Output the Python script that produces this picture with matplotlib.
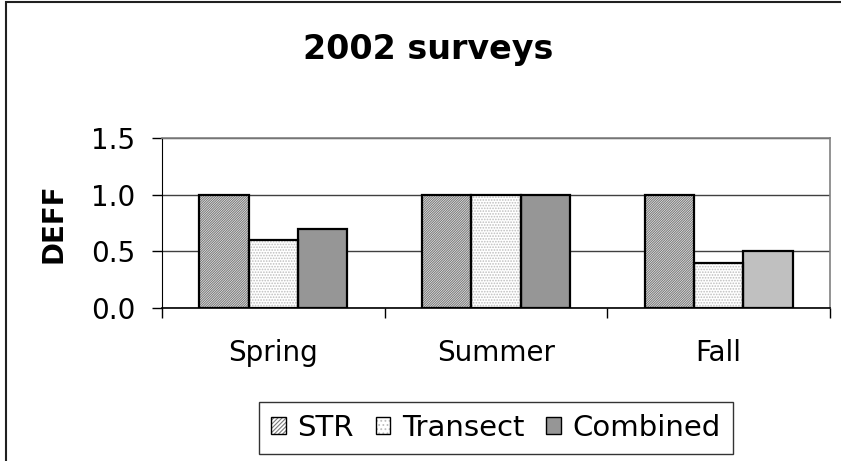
import numpy as np
import matplotlib
matplotlib.use('Agg')
from matplotlib import pyplot as plt
from matplotlib.patches import Rectangle, Patch
from matplotlib.legend_handler import HandlerTuple

# data
seasons = ['Spring', 'Summer', 'Fall']
series = ['STR', 'Transect', 'Combined']
str_vals = [1.0, 1.0, 1.0]
transect_vals = [0.6, 1.0, 0.4]
combined_vals = [0.7, 1.0, 0.5]
yticks = [0.0, 0.5, 1.0, 1.5]

# the original is stretched sideways, DejaVu's wider glyphs fit it better
plt.rcParams['font.family'] = ['DejaVu Sans']
plt.rcParams['hatch.linewidth'] = 0.8

fig = plt.figure(figsize=(8.41, 4.61), dpi=100)
ax = fig.add_axes([162 / 841, 1 - 308 / 461, 668 / 841, 170 / 461])

x = np.arange(len(seasons))
w = 0.222

# fills (hatch colour comes from edgecolor, so outline drawn separately)
ax.bar(x - w, str_vals, w, color='white', edgecolor='#7a7a7a', hatch='/' * 14, linewidth=0, zorder=2)
ax.bar(x, transect_vals, w, color='white', edgecolor='#bdbdbd', hatch='.' * 6, linewidth=0, zorder=2)
comb = ax.bar(x + w, combined_vals, w, color='#969696', linewidth=0, zorder=2)
comb[2].set_facecolor('#c0c0c0')
for off, vals in [(-w, str_vals), (0, transect_vals), (w, combined_vals)]:
    ax.bar(x + off, vals, w, fill=False, edgecolor='black', linewidth=1.6, zorder=3)

ax.set_xlim(-0.5, 2.5)
ax.set_ylim(0, 1.5)
ax.set_yticks(yticks)
ax.set_yticklabels(['%.1f' % v for v in yticks], fontsize=20)
ax.set_xticks(x)
ax.set_xticklabels(seasons, fontsize=20)
ax.set_xticks([-0.5, 0.5, 1.5, 2.5], minor=True)
ax.tick_params(axis='x', which='major', length=0, pad=22)
ax.tick_params(axis='x', which='minor', length=7, width=1, direction='out')
ax.tick_params(axis='y', length=7, width=1, direction='out', pad=12)
ax.yaxis.grid(True, color='#404040', linewidth=1, zorder=0)
ax.set_axisbelow(True)

ax.spines['left'].set_color('black')
ax.spines['bottom'].set_color('black')
ax.spines['bottom'].set_linewidth(1.2)
ax.spines['right'].set_color('#808080')
ax.spines['top'].set_color('#808080')
ax.spines['right'].set_linewidth(1.2)
ax.spines['top'].set_linewidth(1.2)

fig.text(53 / 841, 1 - 223 / 461, 'DEFF', fontsize=20, fontweight='bold',
         rotation=90, ha='center', va='center')
fig.text(428 / 841, 1 - 59 / 461, '2002 surveys', fontsize=24, fontweight='bold',
         ha='center', va='baseline')

outline = Patch(facecolor='none', edgecolor='black', linewidth=1)
handles = [(Patch(facecolor='white', edgecolor='#7a7a7a', hatch='/' * 8, linewidth=0), outline),
           (Patch(facecolor='white', edgecolor='#bdbdbd', hatch='.' * 4, linewidth=0), outline),
           Patch(facecolor='#969696', edgecolor='black', linewidth=1)]
leg = fig.legend(handles, series, loc='center', bbox_to_anchor=(496 / 841, 1 - 428 / 461),
                 ncol=3, fontsize=21, frameon=True, fancybox=False, edgecolor='black',
                 handlelength=0.5, handleheight=0.5, handletextpad=0.4, columnspacing=0.75,
                 borderpad=0.4, borderaxespad=0, handler_map={tuple: HandlerTuple(ndivide=1)})
leg.get_frame().set_linewidth(1)

# outer chart border (right and bottom edges fall outside the image)
fig.patches.append(Rectangle((5.5 / 841, -0.2), 1.2, 1.2 - 1.5 / 461, transform=fig.transFigure,
                             fill=False, edgecolor='#202020', linewidth=1.5))

fig.savefig('out.png', dpi=100)
